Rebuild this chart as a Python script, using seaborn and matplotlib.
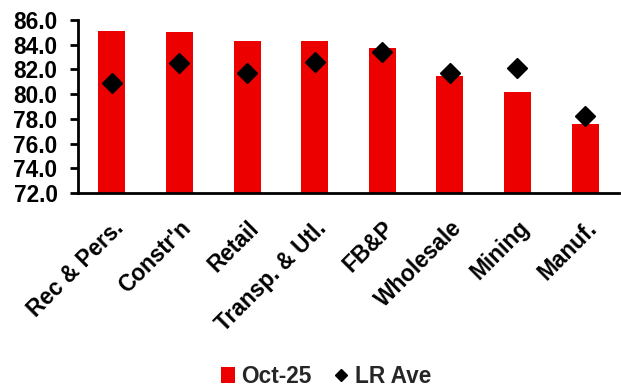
import matplotlib
matplotlib.use("Agg")
import matplotlib.pyplot as plt
import matplotlib.transforms as mtransforms
from matplotlib.lines import Line2D
from matplotlib.patches import Patch
import seaborn as sns
import pandas as pd

# Sector readings
sectors = ["Rec & Pers.", "Constr'n", "Retail", "Transp. & Utl.", "FB&P",
           "Wholesale", "Mining", "Manuf."]
oct_25 = [85.1, 85.0, 84.3, 84.3, 83.7, 81.5, 80.2, 77.6]
lr_ave = [80.9, 82.5, 81.7, 82.6, 83.4, 81.7, 82.1, 78.2]
y_ticks = [72.0, 74.0, 76.0, 78.0, 80.0, 82.0, 84.0, 86.0]

df = pd.DataFrame({"sector": sectors, "Oct-25": oct_25, "LR Ave": lr_ave})

sns.set_theme(style="white")
plt.rcParams["font.family"] = ["Liberation Sans", "DejaVu Sans"]
plt.rcParams["font.weight"] = "bold"

FS = 16.3
bar_color = "#EC0000"
fig = plt.figure(figsize=(6.21, 3.90), dpi=100)
ax = fig.add_axes([0.1256, 0.505, 0.871, 0.444])

sns.barplot(data=df, x="sector", y="Oct-25", color=bar_color, width=0.4,
            saturation=1, ax=ax, edgecolor="none")
ax.plot(range(len(sectors)), df["LR Ave"], linestyle="none", marker="D",
        markersize=10, color="black", zorder=5)

ax.set_ylim(72, 86)
ax.set_xlim(-0.5, len(sectors) - 0.5)
ax.set_yticks(y_ticks)
ax.set_yticklabels([f"{v:.1f}" for v in y_ticks], fontsize=FS, fontweight="bold")
ax.set_xticks(range(len(sectors)))
ax.set_xticklabels(sectors, rotation=45, ha="right", rotation_mode="anchor",
                   fontsize=FS, fontweight="bold")
# nudge the slanted category labels slightly left
shift = mtransforms.ScaledTranslation(-4 / 100, 0, fig.dpi_scale_trans)
for lbl in ax.get_xticklabels():
    lbl.set_transform(lbl.get_transform() + shift)
ax.set_xlabel("")
ax.set_ylabel("")

for side in ("top", "right"):
    ax.spines[side].set_visible(False)
for side in ("left", "bottom"):
    ax.spines[side].set_color("black")
    ax.spines[side].set_linewidth(2)
ax.tick_params(axis="y", which="major", left=True, length=5.8, width=2,
               color="black", pad=9, labelcolor="black")
ax.tick_params(axis="x", which="major", bottom=False, pad=11, labelcolor="black")

handles = [Patch(facecolor=bar_color, edgecolor="none", label="Oct-25"),
           Line2D([], [], linestyle="none", marker="D", markersize=6.5,
                  color="black", label="LR Ave")]
fig.legend(handles=handles, loc="center", bbox_to_anchor=(0.525, 0.035),
           ncol=2, frameon=False, prop={"size": FS, "weight": "bold"},
           handlelength=0.6, handleheight=0.7, handletextpad=0.3,
           columnspacing=1.0)

fig.savefig("out.png", dpi=100)
